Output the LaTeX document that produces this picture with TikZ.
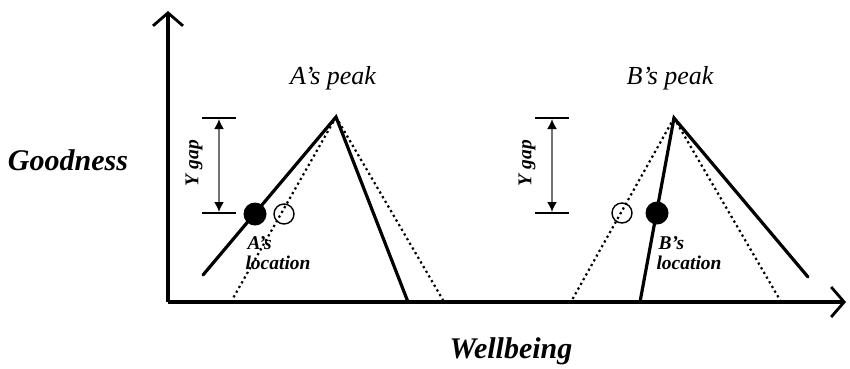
\documentclass[tikz,border=0pt]{standalone}
\usepackage{fontspec}
\setmainfont{Liberation Serif}
\usetikzlibrary{arrows.meta}
\begin{document}
\begin{tikzpicture}[x=1pt,y=-1pt,
  axis/.style={line width=3.2pt,-{Straight Barb[length=13pt,width=30pt,line width=2.8pt]}},
  solidline/.style={line width=3.2pt,line cap=round},
  dotline/.style={line width=2.2pt,dash pattern=on 2.2pt off 3.2pt},
  dotfill/.style={circle,fill=black,minimum size=23pt,inner sep=0pt},
  dotopen/.style={circle,draw=black,line width=1.4pt,minimum size=20pt,inner sep=0pt},
  tick/.style={line width=1.8pt},
  gaparrow/.style={line width=1.8pt,draw=black!55,{Latex[black,length=10pt,width=10pt]}-{Latex[black,length=10pt,width=10pt]}},
  biglabel/.style={font=\fontsize{30}{34}\selectfont\bfseries\itshape},
  peaklabel/.style={font=\fontsize{26}{30}\selectfont\itshape},
  smalllabel/.style={font=\fontsize{19.5}{22}\selectfont\bfseries\itshape}]
\useasboundingbox (0,0) rectangle (850,368);
% axes
\coordinate (O) at (168,302);
\coordinate (Ytop) at (168,11);
\coordinate (Xend) at (846,302);
\draw[axis] (O) -- (Ytop);
\draw[axis] (O) -- (Xend);
% A peak
\coordinate (Apex) at (336,117);
\coordinate (Asl) at (203,275);
\coordinate (Asr) at (408,302);
\coordinate (Adl) at (232,300);
\coordinate (Adr) at (443,300);
\draw[dotline] (Apex) -- (Adl);
\draw[dotline] (Apex) -- (Adr);
\draw[solidline] (Asl) -- (Apex) -- (Asr);
\node[dotfill] (Adot) at (255,214) {};
\node[dotopen] (Aopen) at (284,214) {};
% B peak
\coordinate (Bpex) at (674,118);
\coordinate (Bsl) at (640,302);
\coordinate (Bsr) at (808,277);
\coordinate (Bdl) at (572,300);
\coordinate (Bdr) at (780,300);
\draw[dotline] (Bpex) -- (Bdl);
\draw[dotline] (Bpex) -- (Bdr);
\draw[solidline] (Bsl) -- (Bpex) -- (Bsr);
\node[dotfill] (Bdot) at (657,213) {};
\node[dotopen] (Bopen) at (622,213) {};
% Y gap A
\coordinate (Atl) at (202,118); \coordinate (Atr) at (236,118);
\coordinate (Abl) at (202,213); \coordinate (Abr) at (236,213);
\coordinate (Aga) at (219,119); \coordinate (Agb) at (219,212);
\draw[tick] (Atl) -- (Atr);
\draw[tick] (Abl) -- (Abr);
\draw[gaparrow] (Aga) -- (Agb);
\node[smalllabel,rotate=90] (Agap) at (194,163) {Y gap};
% Y gap B
\coordinate (Btl) at (535,118); \coordinate (Btr) at (569,118);
\coordinate (Bbl) at (535,213); \coordinate (Bbr) at (569,213);
\coordinate (Bga) at (552,119); \coordinate (Bgb) at (552,212);
\draw[tick] (Btl) -- (Btr);
\draw[tick] (Bbl) -- (Bbr);
\draw[gaparrow] (Bga) -- (Bgb);
\node[smalllabel,rotate=90] (Bgap) at (527,163) {Y gap};
% labels
\node[peaklabel] (Apk) at (333,78) {A’s peak};
\node[peaklabel] (Bpk) at (670,78) {B’s peak};
\node[biglabel] (Good) at (68,160) {Goodness};
\node[biglabel] (Well) at (511,351) {Wellbeing};
\node[smalllabel,anchor=west] (Aloc1) at (244,243) {A’s};
\node[smalllabel,anchor=west] (Aloc2) at (242,263) {location};
\node[smalllabel,anchor=west] (Bloc1) at (655,243) {B’s};
\node[smalllabel,anchor=west] (Bloc2) at (653,263) {location};
\end{tikzpicture}
\end{document}
